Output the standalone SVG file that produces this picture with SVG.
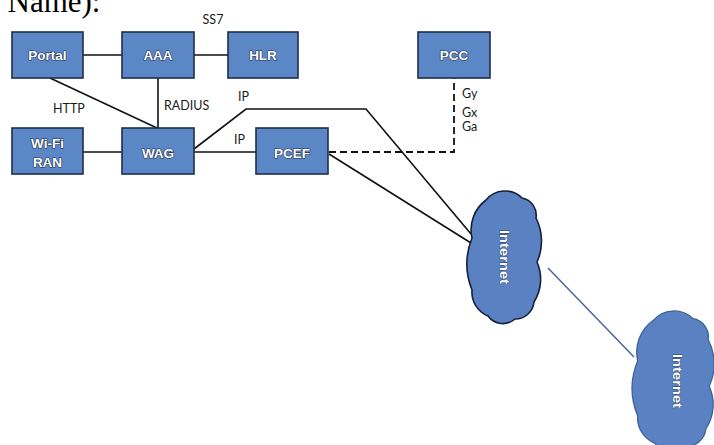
<svg xmlns="http://www.w3.org/2000/svg" width="714" height="445" viewBox="0 0 714 445">
<style>
.box{fill:#5c87c6;stroke:#1e2d4a;stroke-width:1.6}
.nt{font-family:"Liberation Sans",Arial,sans-serif;font-weight:bold;font-size:13.5px;fill:#ffffff;stroke:#22314f;stroke-width:1.2;paint-order:stroke;text-anchor:middle}
.lbl{font-family:Lato,"Open Sans",sans-serif;font-size:12.5px;fill:#1a1a1a}
.ln{stroke:#111;stroke-width:1.6;fill:none}
.dash{stroke:#111;stroke-width:1.8;fill:none;stroke-dasharray:7 4}
.cloud{fill:#5a82c2;stroke:#15203a;stroke-width:1.6}
.cloud2{fill:#5a82c2;stroke:#3f6298;stroke-width:1.2}
.ct{font-family:"Liberation Sans",Arial,sans-serif;font-weight:bold;font-size:13.5px;fill:#ffffff;stroke:#2a3b5e;stroke-width:0.8;paint-order:stroke;text-anchor:middle}
</style>
<defs>
<path id="cloudShape" d="M486 200 A24.25 24.25 0 0 1 522 198 A17.4 17.4 0 0 1 536 218 A50.9 50.9 0 0 1 537 262 A42.7 42.7 0 0 1 534 302 A18.75 18.75 0 0 1 515 319 A18.4 18.4 0 0 1 488 316 A25.8 25.8 0 0 1 472 290 A70 70 0 0 1 472 238 A37.2 37.2 0 0 1 486 200 Z"/>
</defs>
<rect width="714" height="445" fill="#ffffff"/>
<text x="-14" y="12" font-family="Liberation Serif,'Times New Roman',serif" font-size="31" fill="#000">e Name):</text>
<g id="connectors">
<line class="ln" x1="83" y1="55" x2="122" y2="55"/>
<line class="ln" x1="194" y1="55" x2="228" y2="55"/>
<line class="ln" x1="50" y1="78" x2="157" y2="128"/>
<line class="ln" x1="158" y1="78" x2="158" y2="128"/>
<line class="ln" x1="83" y1="152" x2="122" y2="152"/>
<line class="ln" x1="194" y1="152" x2="256" y2="152"/>
<polyline class="ln" points="194,149 246,109 366,109 471,234"/>
<line class="ln" x1="329" y1="154" x2="471" y2="243"/>
<polyline class="dash" points="329,152 454,152 454,78"/>
<line x1="548" y1="268" x2="634" y2="357" stroke="#45679a" stroke-width="1.5"/>
</g>
<g id="labels">
<text class="lbl" x="213" y="24" text-anchor="middle">SS7</text>
<text class="lbl" x="53" y="113">HTTP</text>
<text class="lbl" x="164" y="110">RADIUS</text>
<text class="lbl" x="238" y="101">IP</text>
<text class="lbl" x="234" y="144">IP</text>
<text class="lbl" x="462" y="98">Gy</text>
<text class="lbl" x="462" y="117">Gx</text>
<text class="lbl" x="462" y="131">Ga</text>
</g>
<g id="portal"><rect class="box" x="12" y="32" width="71" height="46"/><text class="nt" x="47.5" y="60">Portal</text></g>
<g id="aaa"><rect class="box" x="122" y="32" width="72" height="46"/><text class="nt" x="158" y="60">AAA</text></g>
<g id="hlr"><rect class="box" x="228" y="32" width="70" height="46"/><text class="nt" x="263" y="60">HLR</text></g>
<g id="pcc"><rect class="box" x="418" y="32" width="72" height="46"/><text class="nt" x="454" y="60">PCC</text></g>
<g id="wifi-ran"><rect class="box" x="12" y="128" width="71" height="46"/><text class="nt" x="47.5" y="148">Wi-Fi</text><text class="nt" x="47.5" y="167">RAN</text></g>
<g id="wag"><rect class="box" x="122" y="128" width="72" height="46"/><text class="nt" x="158" y="158">WAG</text></g>
<g id="pcef"><rect class="box" x="256" y="128" width="72" height="46"/><text class="nt" x="292" y="158">PCEF</text></g>
<g id="internet1"><use href="#cloudShape" class="cloud"/><text class="ct" transform="translate(500,257) rotate(90)" textLength="54" lengthAdjust="spacingAndGlyphs">Internet</text></g>
<g id="internet2"><use href="#cloudShape" class="cloud2" transform="translate(674,381) scale(1.1,1.06) translate(-505,-257)"/><text class="ct" transform="translate(673,381) rotate(90)" textLength="54" lengthAdjust="spacingAndGlyphs">Internet</text></g>
</svg>
